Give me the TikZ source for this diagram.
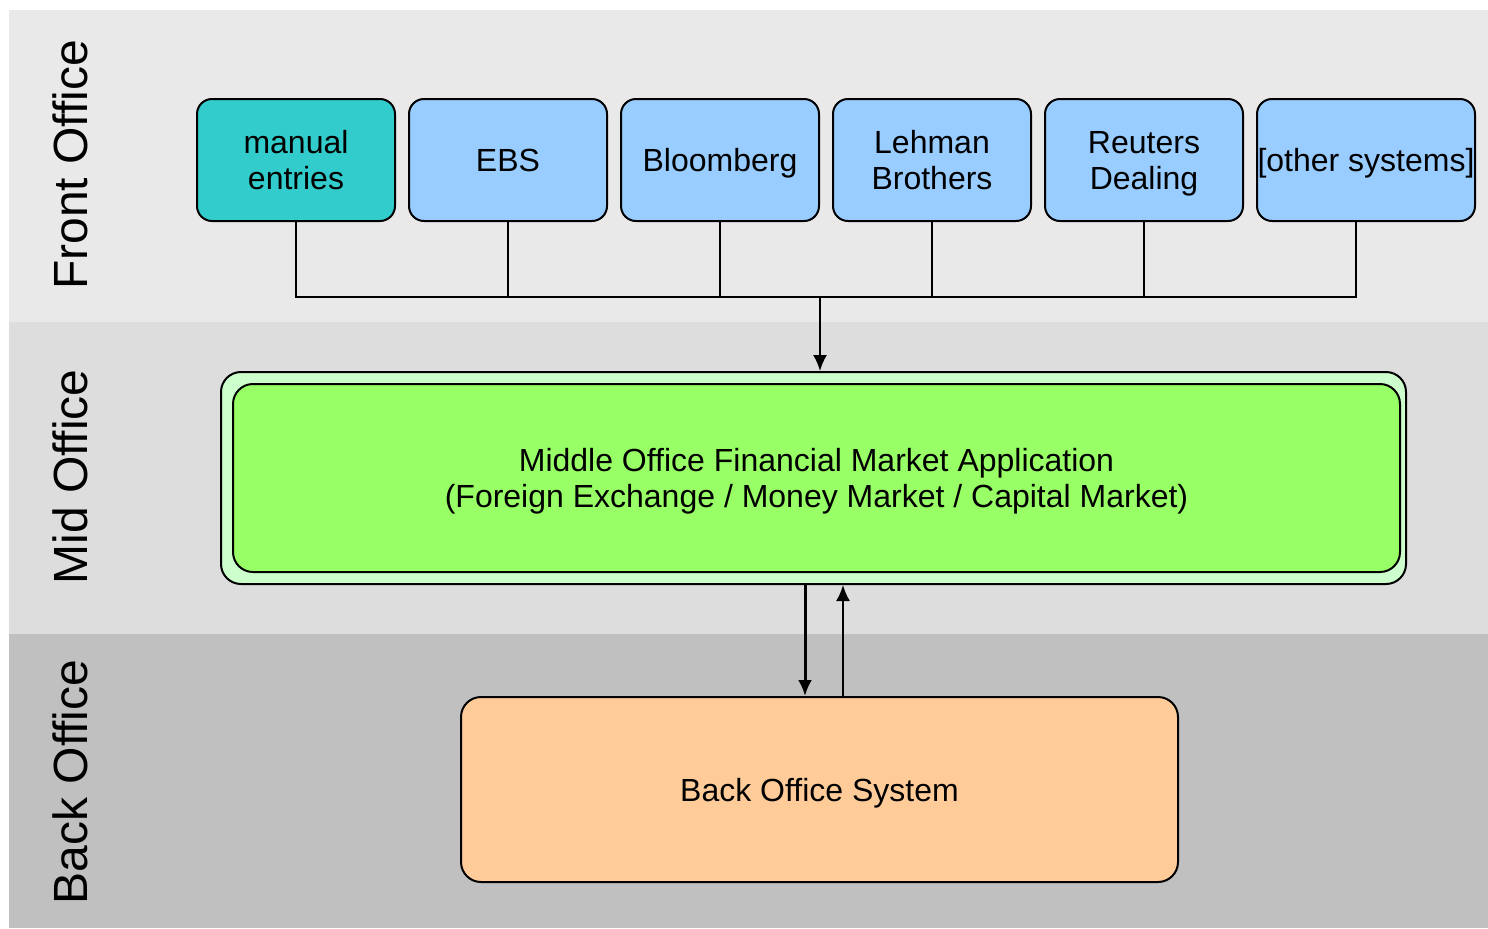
\documentclass[tikz,border=0pt]{standalone}
\usepackage{fontspec}
\setmainfont{Liberation Sans}
\usetikzlibrary{positioning,arrows.meta}

\definecolor{frontbg}{HTML}{E9E9E9}
\definecolor{midbg}{HTML}{DDDDDD}
\definecolor{backbg}{HTML}{C0C0C0}
\definecolor{manualfill}{HTML}{33CCCC}
\definecolor{sysfill}{HTML}{99CCFF}
\definecolor{midouter}{HTML}{CCFFCC}
\definecolor{midinner}{HTML}{99FF66}
\definecolor{backfill}{HTML}{FFCC99}

\begin{document}
\begin{tikzpicture}[x=0.5pt,y=-0.5pt,node distance=6pt,line width=1pt,
                    sys node/.style={rectangle, rounded corners=7.5pt, draw, fill=sysfill,
                      minimum width=99pt, minimum height=61pt, inner sep=0pt, text depth=0pt,
                      align=center, font=\fontsize{16}{18}\selectfont},
                    big node/.style={rectangle, rounded corners=10pt, draw, inner sep=0pt, text depth=0pt,
                      align=center, font=\fontsize{16}{18}\selectfont},
                    side label/.style={rotate=90, font=\fontsize{24}{28}\selectfont},
                    arr/.style={-{Latex[length=8pt,width=7pt]}}]

  \useasboundingbox (0,0) rectangle (1488,928);
  %Bands%
  \fill[frontbg] (9,10) rectangle (1488,322);
  \fill[midbg] (9,322) rectangle (1488,634);
  \fill[backbg] (9,634) rectangle (1488,928);
  \node[side label] (front) at (70,165) {Front Office};
  \node[side label] (midlabel) at (70,477) {Mid Office};
  \node[side label] (backlabel) at (70,782) {Back Office};

  %Front office systems%
  \node[sys node, fill=manualfill] (manual) at (296,160) {manual\\entries};
  \node[sys node] (ebs) [right=of manual] {EBS};
  \node[sys node] (bloomberg) [right=of ebs] {Bloomberg};
  \node[sys node] (lehman) [right=of bloomberg] {Lehman\\Brothers};
  \node[sys node] (reuters) [right=of lehman] {Reuters\\Dealing};
  \node[sys node, minimum width=109pt] (other) [right=of reuters] {[other systems]};
  \coordinate (bus) at (820,297);

  %Middle office%
  \node[big node, fill=midouter, minimum width=592.5pt, minimum height=106pt] (mid) at (813.5,478) {};
  \node[big node, fill=midinner, minimum width=583.5pt, minimum height=94pt] (midin) at (816.5,478)
    {Middle Office Financial Market Application\\(Foreign Exchange / Money Market / Capital Market)};

  %Back office%
  \node[big node, fill=backfill, minimum width=358.5pt, minimum height=92.5pt] (back) at (819.5,789.5)
    {Back Office System};

  \draw (manual.south) |- (bus);
  \draw (ebs.south) |- (bus);
  \draw (bloomberg.south) |- (bus);
  \draw (lehman.south) |- (bus);
  \draw (reuters.south) |- (bus);
  \draw ([xshift=-5pt]other.south) |- (bus);
  \draw[arr] (bus) -- (bus |- mid.north);

  \draw[arr, line width=1.5pt] ([xshift=-4.25pt]mid.south) -- ([xshift=-4.25pt]mid.south |- back.north);
  \draw[arr] ([xshift=14.75pt]mid.south |- back.north) -- ([xshift=14.75pt]mid.south);
\end{tikzpicture}
\end{document}
